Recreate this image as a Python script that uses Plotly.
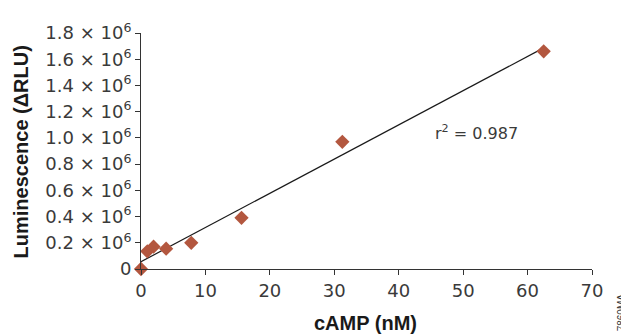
import numpy as np
import plotly.graph_objects as go

camp_nM = [0, 0.98, 1.95, 3.9, 7.8, 15.6, 31.25, 62.5]
luminescence = [0, 0.135e6, 0.17e6, 0.155e6, 0.2e6, 0.39e6, 0.97e6, 1.66e6]
y_tickvals = [0, 0.2e6, 0.4e6, 0.6e6, 0.8e6, 1.0e6, 1.2e6, 1.4e6, 1.6e6, 1.8e6]
y_ticktext = ["0"] + [f"{v/1e6:.1f} × 10<sup>6</sup>" for v in y_tickvals[1:]]
x_tickvals = [0, 10, 20, 30, 40, 50, 60, 70]
r2_text = "r<sup>2</sup> = 0.987"

slope, intercept = np.polyfit(camp_nM, luminescence, 1)
fit_x = [0, max(camp_nM)]
fit_y = [intercept + slope * v for v in fit_x]

# page body has an 8px margin; figure is offset by (8, 8)
OFF = 8
W, H = 629 - OFF, 336 - OFF
L, R, T, B = 141 - OFF, 37, 24 - OFF, 67

fig = go.Figure()
fig.add_trace(go.Scatter(x=fit_x, y=fit_y, mode="lines",
                         line=dict(color="#1a1a1a", width=1.2), showlegend=False))
fig.add_trace(go.Scatter(x=camp_nM, y=luminescence, mode="markers",
                         marker=dict(symbol="diamond", size=11, color="#b3573f"),
                         showlegend=False, cliponaxis=False))

font_tick = dict(family="DejaVu Sans, Arial, sans-serif", size=18, color="#3a3a3a")
title_font = dict(family="Liberation Sans, Arial", size=20, color="#1a1a1a")
fig.update_layout(
    width=W, height=H,
    margin=dict(l=L, r=R, t=T, b=B),
    paper_bgcolor="white", plot_bgcolor="white",
    xaxis=dict(range=[0, 70], tickvals=x_tickvals, showgrid=False, zeroline=False,
               showline=True, linecolor="#333", linewidth=1, ticks="outside",
               ticklen=5, tickcolor="#333", tickfont=font_tick),
    yaxis=dict(range=[0, 1.8e6], tickvals=y_tickvals, ticktext=y_ticktext,
               showgrid=False, zeroline=False, showline=True, linecolor="#333",
               linewidth=1, ticks="outside", ticklen=5, tickcolor="#333",
               tickfont=font_tick),
)

pw, ph = W - L - R, H - T - B
def px(xp, yp):
    # page pixel -> paper coords
    xf, yf = xp - OFF, yp - OFF
    return (xf - L) / pw, (H - B - yf) / ph

ann_specs = [
    (r2_text, 476, 127, 0, dict(family="DejaVu Sans, Arial", size=16, color="#3a3a3a")),
    ("<b>cAMP (nM)</b>", 365, 325, 0, title_font),
    ("<b>Luminescence (ΔRLU)</b>", 21, 148, -90, title_font),
    ("7860MA", 621, 314, -90, dict(family="Liberation Sans, Arial", size=10, color="#333")),
]
for text, xp, yp, ang, fnt in ann_specs:
    fx, fy = px(xp, yp)
    fig.add_annotation(text=text, x=fx, y=fy, xref="paper", yref="paper",
                       xanchor="center", yanchor="middle", showarrow=False,
                       textangle=ang, font=fnt)

fig.write_html("out.html")
